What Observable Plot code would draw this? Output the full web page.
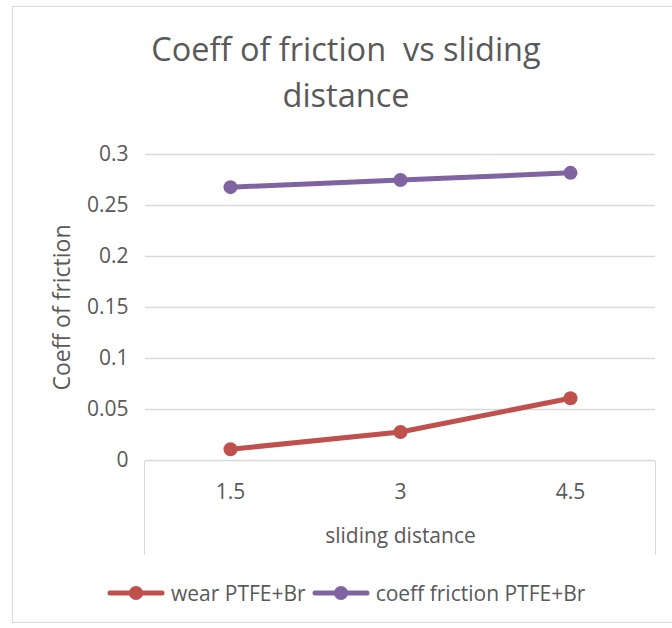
<!DOCTYPE html>
<html><head><meta charset="utf-8">
<script src="https://cdn.jsdelivr.net/npm/d3@7"></script>
<script src="https://cdn.jsdelivr.net/npm/@observablehq/plot@0.6"></script>
<style>
body{margin:0;background:#fff;font-family:"Open Sans",sans-serif;color:#595959;}
#wrap{position:relative;width:672px;height:628px;overflow:hidden;}
#border{position:absolute;left:12px;top:6px;width:720px;height:617px;border:1.5px solid #d9d9d9;box-sizing:border-box;}
#title{position:absolute;left:12px;width:668px;top:26px;text-align:center;font-size:32.5px;line-height:46px;color:#595959;white-space:pre;}
#chart{position:absolute;left:0;top:130px;}
#box{position:absolute;left:144px;top:461px;width:512px;height:94px;border:1.5px solid #d9d9d9;border-top:none;border-bottom:none;box-sizing:border-box;}
#legend{position:absolute;left:107px;top:578px;height:30px;display:flex;align-items:center;font-size:21px;color:#595959;white-space:pre;}
#legend .item{display:flex;align-items:center;margin-right:6px;}
#legend svg{margin-right:6px;}
</style>
</head><body>
<div id="wrap">
  <div id="border"></div>
  <div id="title"></div>
  <div id="box"></div>
  <div id="chart"></div>
  <div id="legend"></div>
</div>
<script>
const titleLines = ["Coeff of friction  vs sliding", "distance"];
const xLabel = "sliding distance";
const yLabel = "Coeff of friction";
const distances = ["1.5", "3", "4.5"];
const wearValues = [0.011, 0.028, 0.061];
const coeffValues = [0.268, 0.275, 0.282];
const yTicks = [0, 0.05, 0.1, 0.15, 0.2, 0.25, 0.3];
const seriesNames = ["wear PTFE+Br", "coeff friction PTFE+Br"];
const seriesColors = ["#c0504d", "#8064a2"];

document.getElementById("title").textContent = titleLines.join("\n");

const data = [
  ...distances.map((d, i) => ({x: d, y: wearValues[i], s: seriesNames[0]})),
  ...distances.map((d, i) => ({x: d, y: coeffValues[i], s: seriesNames[1]}))
];

const chart = Plot.plot({
  width: 672,
  height: 440,
  marginLeft: 145,
  marginRight: 17,
  marginTop: 24,
  marginBottom: 110,
  style: {fontFamily: "Open Sans, sans-serif", fontSize: "21px", color: "#595959", background: "transparent", overflow: "visible"},
  x: {type: "point", domain: distances, padding: 0.5},
  y: {domain: [0, 0.3]},
  color: {domain: seriesNames, range: seriesColors},
  marks: [
    Plot.gridY(yTicks, {stroke: "#d9d9d9", strokeOpacity: 1, strokeWidth: 1.5}),
    Plot.axisY(yTicks, {tickSize: 0, tickPadding: 17, tickFormat: d => String(d), label: null, fontSize: 21}),
    Plot.axisX({tickSize: 0, tickPadding: 24, label: null, fontSize: 21}),
    Plot.text([yLabel], {text: d => d, frameAnchor: "left", textAnchor: "middle", lineAnchor: "middle", rotate: -90, dx: -83, fontSize: 23, fill: "#595959"}),
    Plot.text([xLabel], {text: d => d, frameAnchor: "bottom", textAnchor: "middle", lineAnchor: "middle", dy: 76, fontSize: 21, fill: "#595959"}),
    Plot.line(data, {x: "x", y: "y", z: "s", stroke: "s", strokeWidth: 5}),
    Plot.dot(data, {x: "x", y: "y", fill: "s", r: 7})
  ]
});
document.getElementById("chart").appendChild(chart);

const legend = document.getElementById("legend");
seriesNames.forEach((name, i) => {
  const item = document.createElement("div");
  item.className = "item";
  item.innerHTML = `<svg width="58" height="18"><line x1="3" x2="55" y1="9" y2="9" stroke="${seriesColors[i]}" stroke-width="5" stroke-linecap="round"/><circle cx="29" cy="9" r="7" fill="${seriesColors[i]}"/></svg><span>${name}</span>`;
  legend.appendChild(item);
});
</script>
</body></html>
